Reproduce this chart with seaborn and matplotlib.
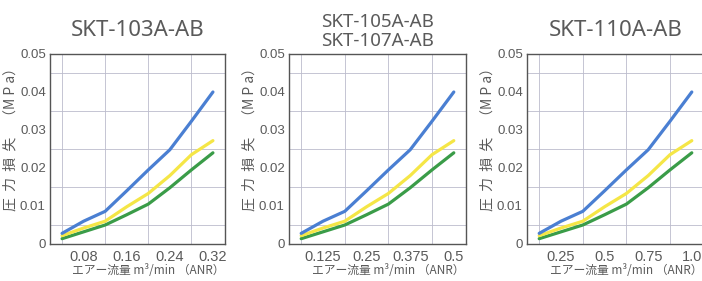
import matplotlib
matplotlib.use("Agg")
import matplotlib.pyplot as plt
import numpy as np
import pandas as pd
import seaborn as sns

# flow values (m3/min) for each model
flow_103 = [0.04, 0.08, 0.12, 0.16, 0.20, 0.24, 0.28, 0.32]
flow_105 = [0.0625, 0.125, 0.1875, 0.25, 0.3125, 0.375, 0.4375, 0.5]
flow_110 = [0.125, 0.25, 0.375, 0.5, 0.625, 0.75, 0.875, 1.0]

# pressure loss (MPa), same shape on every chart
loss_blue = [0.0028, 0.006, 0.0086, 0.014, 0.0195, 0.0248, 0.0323, 0.040]
loss_yellow = [0.0022, 0.0042, 0.006, 0.0098, 0.0133, 0.018, 0.0235, 0.0272]
loss_green = [0.0014, 0.0032, 0.005, 0.0077, 0.0105, 0.0148, 0.0195, 0.024]

titles = ["SKT-103A-AB", "SKT-105A-AB\nSKT-107A-AB", "SKT-110A-AB"]
xticks_103 = [0.08, 0.16, 0.24, 0.32]
xticks_105 = [0.125, 0.25, 0.375, 0.5]
xticks_110 = [0.25, 0.5, 0.75, 1.0]
xticklabels_103 = ["0.08", "0.16", "0.24", "0.32"]
xticklabels_105 = ["0.125", "0.25", "0.375", "0.5"]
xticklabels_110 = ["0.25", "0.5", "0.75", "1.0"]
yticks = [0, 0.01, 0.02, 0.03, 0.04, 0.05]
yticklabels = ["0", "0.01", "0.02", "0.03", "0.04", "0.05"]

sns.set_style("white")
plt.rcParams['font.family'] = ['Noto Sans CJK JP', 'DejaVu Sans']

text_c = "#5a5a5a"
colors = {"blue": "#4a7fd2", "yellow": "#f5e646", "green": "#3a9c48"}
num_font = ['Liberation Sans', 'DejaVu Sans']

W, H = 702, 281
fig = plt.figure(figsize=(W / 100, H / 100), dpi=100)

# axes boxes in pixels: left, right (top=54, bottom=244)
boxes = [(50, 225), (289, 466), (527, 704)]
flows = [flow_103, flow_105, flow_110]
ticks = [xticks_103, xticks_105, xticks_110]
ticklabels = [xticklabels_103, xticklabels_105, xticklabels_110]
title_sizes = [16, 13.5, 16]
title_pads = [13, 6, 13]

for i in range(3):
    l, r = boxes[i]
    ax = fig.add_axes([l / W, (H - 244) / H, (r - l) / W, (244 - 54) / H])
    fl = flows[i]
    step = fl[1] - fl[0]

    df = pd.DataFrame({
        "flow": fl * 3,
        "loss": loss_green + loss_yellow + loss_blue,
        "line": ["green"] * 8 + ["yellow"] * 8 + ["blue"] * 8,
    })
    sns.lineplot(data=df, x="flow", y="loss", hue="line", palette=colors,
                 linewidth=2.3, legend=False, ax=ax)

    ax.set_xlim(fl[0] - 0.56 * step, fl[-1] + 0.56 * step)
    ax.set_ylim(0, 0.05)
    ax.set_xticks(ticks[i])
    ax.set_xticklabels(ticklabels[i], family=num_font, fontsize=10.5)
    ax.set_yticks(yticks)
    ax.set_yticklabels(yticklabels, family=num_font, fontsize=9.5)
    ax.set_xticks(fl, minor=True)
    ax.set_yticks(np.arange(0, 0.0501, 0.005), minor=True)
    ax.grid(which="minor", color="#bcbccc", linewidth=0.6)
    ax.set_axisbelow(True)
    ax.tick_params(which="both", length=0)
    ax.tick_params(axis="x", labelcolor=text_c, pad=4)
    ax.tick_params(axis="y", labelcolor=text_c, pad=3)
    for s in ax.spines.values():
        s.set_color("#555555")
        s.set_linewidth(1.0)

    ax.set_xlabel("エアー流量 m³/min （ANR）", fontsize=8.5, color=text_c,
                  labelpad=0, x=0.56)
    ax.set_ylabel("圧  力  損  失　（M P a）", fontsize=10, color=text_c,
                  labelpad=2, y=0.57)
    ax.set_title(titles[i], fontsize=title_sizes[i], color=text_c,
                 pad=title_pads[i], family=['Noto Sans', 'DejaVu Sans'],
                 linespacing=1.05)

fig.savefig("out.png", dpi=100)
